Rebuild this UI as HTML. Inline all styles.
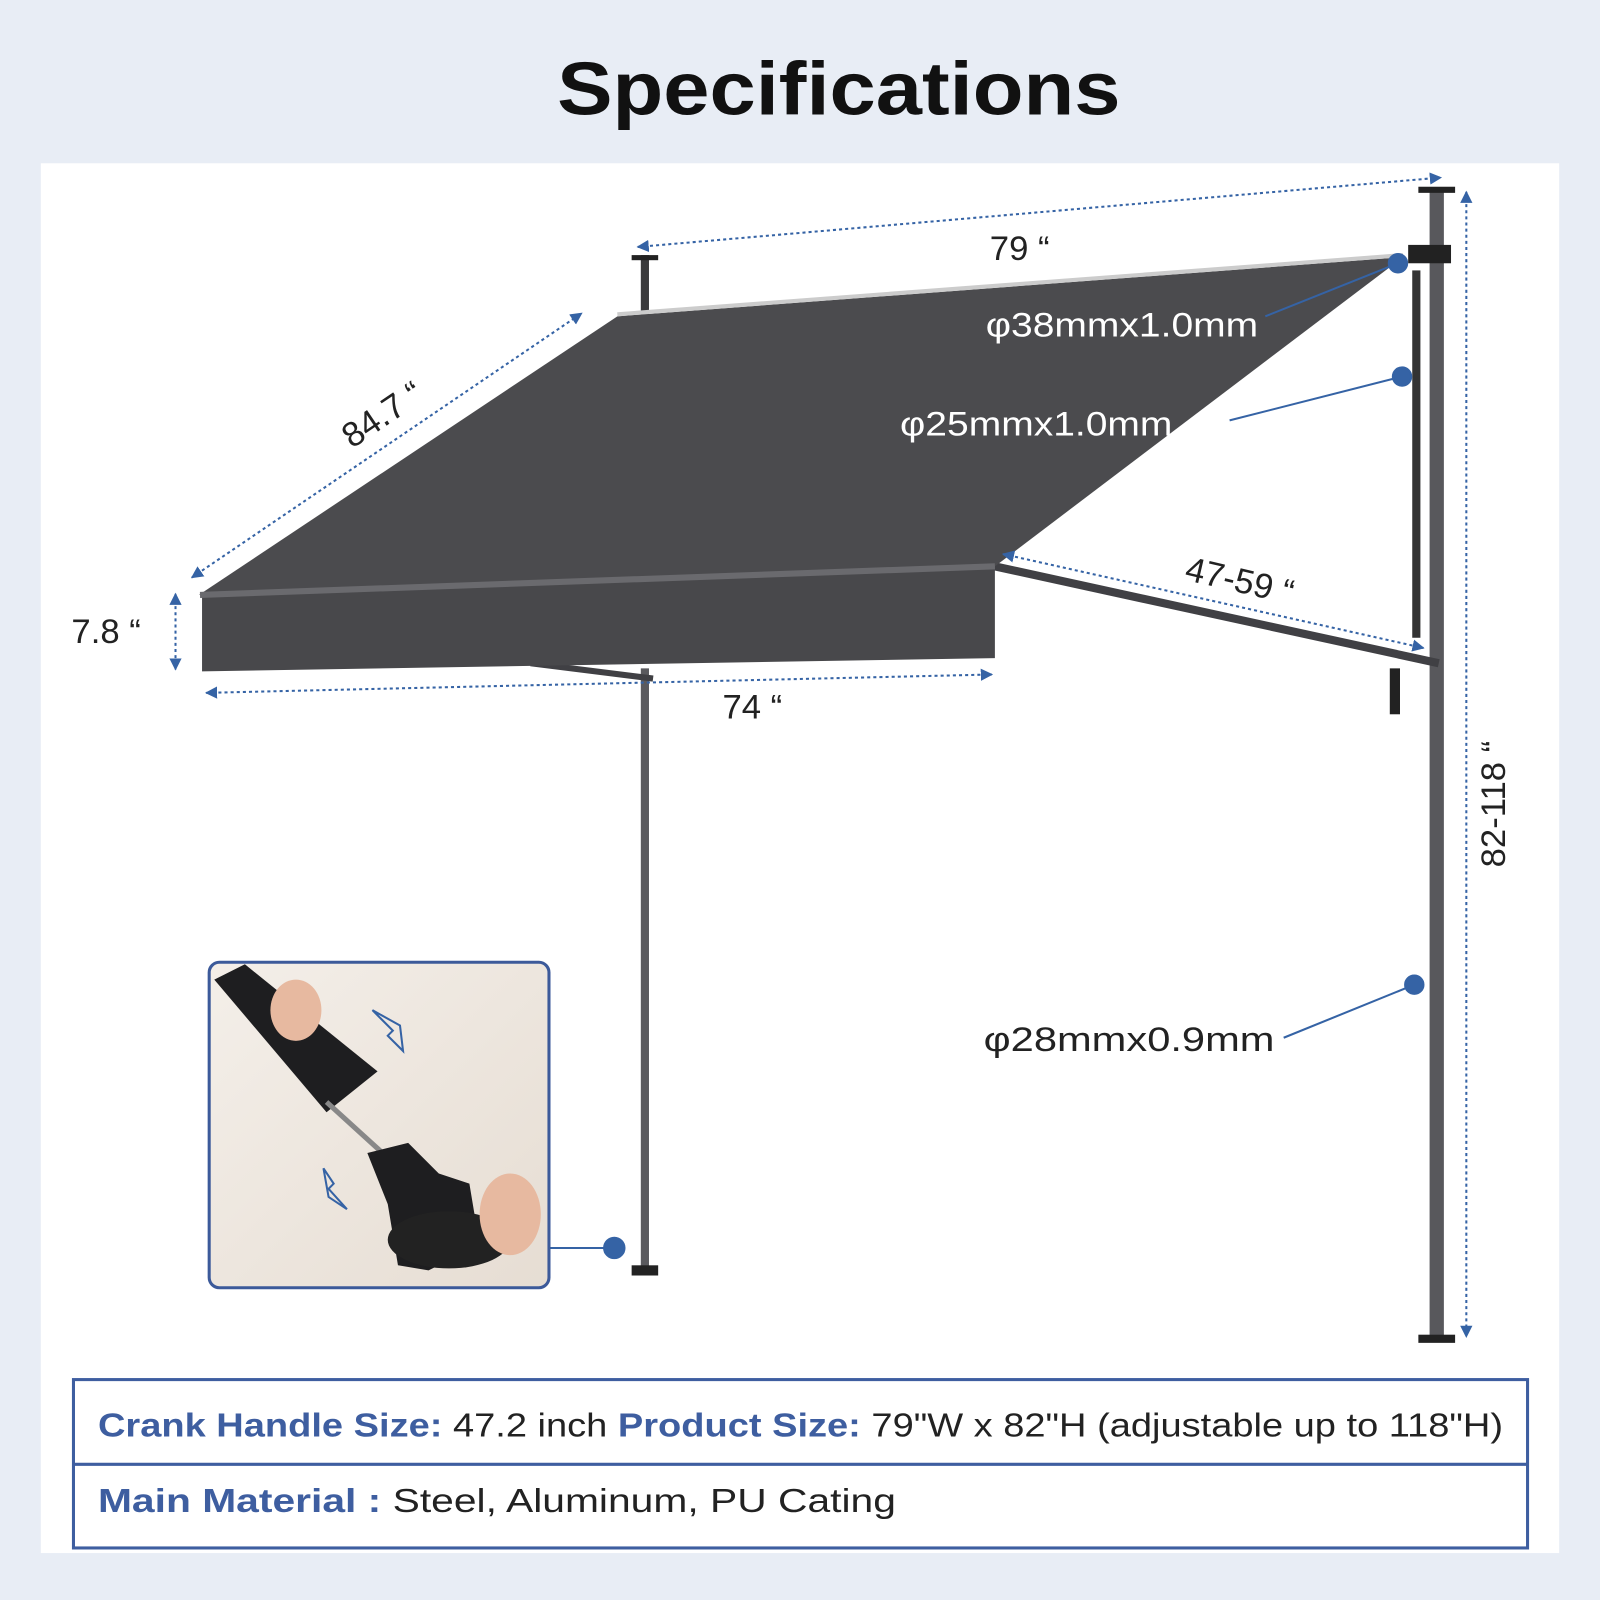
<!DOCTYPE html>
<html><head><style>
html,body{margin:0;padding:0;background:#e8edf5;}
svg{display:block;}
text{font-family:"Liberation Sans",sans-serif;}
</style></head><body>
<svg width="1600" height="1600" viewBox="0 0 1568 1568" xmlns="http://www.w3.org/2000/svg">
<defs>
<marker id="ar" viewBox="0 0 10 10" refX="9" refY="5" markerWidth="6" markerHeight="6" orient="auto-start-reverse"><path d="M0,0L10,5L0,10z" fill="#3563a5"/></marker>
<linearGradient id="ph" x1="0" y1="0" x2="1" y2="1"><stop offset="0" stop-color="#f4efe9"/><stop offset="1" stop-color="#e6ddd3"/></linearGradient>
</defs>
<rect width="1568" height="1568" fill="#e8edf5"/>
<rect x="40" y="160" width="1488" height="1362" fill="#fff"/>
<text x="546" y="112" textLength="552" lengthAdjust="spacingAndGlyphs" font-size="74" font-weight="bold" fill="#111">Specifications</text>

<rect x="628" y="250" width="8" height="58" fill="#3a3a3c"/>
<rect x="619" y="250" width="26" height="5" fill="#222"/>
<rect x="628" y="655" width="8" height="590" fill="#5a5a5e"/>
<rect x="619" y="1240" width="26" height="10" fill="#222"/>
<rect x="1401" y="185" width="14" height="1130" fill="#58585c"/>
<rect x="1390" y="183" width="36" height="6" fill="#222"/>
<rect x="1390" y="1308" width="36" height="8" fill="#222"/>
<rect x="1384" y="265" width="8" height="360" fill="#333"/>
<rect x="1380" y="240" width="42" height="18" fill="#222"/>
<line x1="975" y1="555" x2="1410" y2="650" stroke="#404044" stroke-width="8"/>
<line x1="520" y1="650" x2="640" y2="665" stroke="#404044" stroke-width="6"/>
<rect x="1362" y="655" width="10" height="45" fill="#222"/>

<polygon points="605,310 1375,252 975,555 195,583" fill="#4b4b4e"/>
<line x1="605" y1="308" x2="1375" y2="250" stroke="#ccc" stroke-width="4"/>
<polygon points="198,583 975,555 975,645 198,658" fill="#48484b"/>
<line x1="196" y1="583" x2="975" y2="555" stroke="#6a6a6e" stroke-width="6"/>

<g stroke="#3563a5" stroke-width="2" stroke-dasharray="3,3" fill="none">
<line x1="625" y1="242" x2="1412" y2="174" marker-start="url(#ar)" marker-end="url(#ar)"/>
<line x1="188" y1="566" x2="570" y2="307" marker-start="url(#ar)" marker-end="url(#ar)"/>
<line x1="172" y1="582" x2="172" y2="656" marker-start="url(#ar)" marker-end="url(#ar)"/>
<line x1="202" y1="679" x2="972" y2="661" marker-start="url(#ar)" marker-end="url(#ar)"/>
<line x1="983" y1="543" x2="1395" y2="635" marker-start="url(#ar)" marker-end="url(#ar)"/>
<line x1="1437" y1="188" x2="1437" y2="1310" marker-start="url(#ar)" marker-end="url(#ar)"/>
</g>
<g font-size="34" fill="#222">
<text x="970" y="255">79 “</text>
<text x="70" y="630">7.8 “</text>
<text x="708" y="704">74 “</text>
<text x="345" y="440" transform="rotate(-34 345 440)">84.7 “</text>
<text x="1160" y="568" transform="rotate(13 1160 568)">47-59 “</text>
<text x="1475" y="850" transform="rotate(-90 1475 850)">82-118 “</text>
</g>
<g stroke="#3563a5" stroke-width="2" fill="#3563a5">
<line x1="1240" y1="310" x2="1370" y2="258"/><circle cx="1370" cy="258" r="9"/>
<line x1="1205" y1="412" x2="1374" y2="369"/><circle cx="1374" cy="369" r="9"/>
<line x1="1258" y1="1017" x2="1386" y2="965"/><circle cx="1386" cy="965" r="9"/>
<line x1="538" y1="1223" x2="602" y2="1223"/><circle cx="602" cy="1223" r="10"/>
</g>
<g font-size="34" fill="#fff">
<text x="966" y="330" textLength="267" lengthAdjust="spacingAndGlyphs">φ38mmx1.0mm</text>
<text x="882" y="427" textLength="267" lengthAdjust="spacingAndGlyphs">φ25mmx1.0mm</text>
</g>
<text x="964" y="1030" font-size="34" fill="#222" textLength="285" lengthAdjust="spacingAndGlyphs">φ28mmx0.9mm</text>

<rect x="205" y="943" width="333" height="319" rx="10" fill="url(#ph)" stroke="#3c5a9a" stroke-width="3"/>
<polygon points="210,960 240,945 370,1050 320,1090" fill="#1e1e20"/>
<line x1="320" y1="1080" x2="375" y2="1130" stroke="#888" stroke-width="5"/>
<polygon points="360,1130 400,1120 430,1150 460,1160 470,1220 420,1245 390,1240 380,1180" fill="#1e1e20"/>
<ellipse cx="440" cy="1215" rx="60" ry="28" fill="#222"/>
<ellipse cx="290" cy="990" rx="25" ry="30" fill="#e7b9a0"/>
<ellipse cx="500" cy="1190" rx="30" ry="40" fill="#e7b9a0"/>
<path d="M365,990l20,20l-5,5l15,15l-3,-25z" fill="none" stroke="#3563a5" stroke-width="2"/>
<path d="M340,1185l-18,-20l5,-5l-10,-15l5,28z" fill="none" stroke="#3563a5" stroke-width="2"/>

<rect x="72" y="1352" width="1425" height="165" fill="#fff" stroke="#3e5ea0" stroke-width="3"/>
<line x1="72" y1="1435" x2="1497" y2="1435" stroke="#3e5ea0" stroke-width="3"/>
<text x="96" y="1408" font-size="33" fill="#222" textLength="1377" lengthAdjust="spacingAndGlyphs"><tspan font-weight="bold" fill="#3e5ea0">Crank Handle Size:</tspan> 47.2 inch   <tspan font-weight="bold" fill="#3e5ea0">Product Size:</tspan> 79"W x 82"H (adjustable up to 118"H)</text>
<text x="96" y="1482" font-size="33" fill="#222" textLength="782" lengthAdjust="spacingAndGlyphs"><tspan font-weight="bold" fill="#3e5ea0">Main Material :</tspan> Steel,   Aluminum,   PU Cating</text>
</svg>
</body></html>
